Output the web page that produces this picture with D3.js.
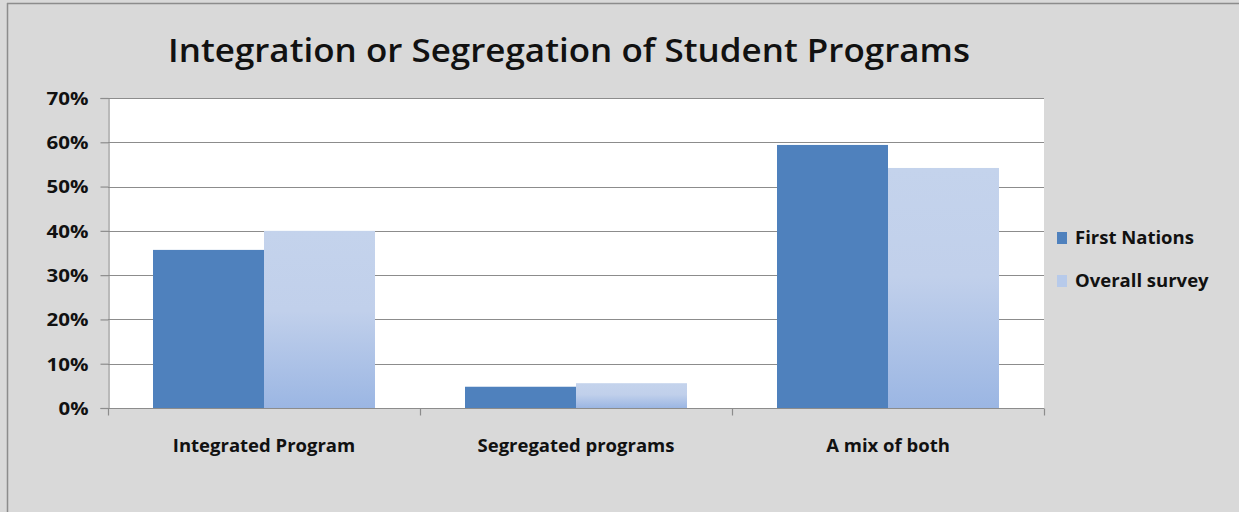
<!DOCTYPE html>
<html><head><meta charset="utf-8">
<script src="https://cdn.jsdelivr.net/npm/d3@7"></script>
<style>
html,body{margin:0;padding:0;background:#d9d9d9;}
svg{display:block;}
text{font-family:"Open Sans","DejaVu Sans",sans-serif;fill:#111;}
</style></head><body>
<svg id="c" width="1239" height="512"></svg>
<script>
const categories = ["Integrated Program", "Segregated programs", "A mix of both"];
const seriesNames = ["First Nations", "Overall survey"];
const firstNations = [0.357, 0.048, 0.594];
const overallSurvey = [0.40, 0.056, 0.542];
const yTicks = [0, 0.1, 0.2, 0.3, 0.4, 0.5, 0.6, 0.7];
const title = "Integration or Segregation of Student Programs";

const svg = d3.select("#c");
const W = 1239, H = 512;
const m = {left: 108, right: 1044, top: 98, bottom: 408};

// background + border
svg.append("rect").attr("x",0).attr("y",0).attr("width",W).attr("height",H).attr("fill","#d9d9d9");
svg.append("line").attr("x1",7.5).attr("x2",7.5).attr("y1",3).attr("y2",H).attr("stroke","#8c8c8c").attr("stroke-width",1.5);
svg.append("line").attr("x1",7).attr("x2",W).attr("y1",3.5).attr("y2",3.5).attr("stroke","#8c8c8c").attr("stroke-width",1.5);

const defs = svg.append("defs");
const g1 = defs.append("linearGradient").attr("id","lg").attr("x1",0).attr("x2",0).attr("y1",0).attr("y2",1);
g1.append("stop").attr("offset","0%").attr("stop-color","#c4d3ec");
g1.append("stop").attr("offset","45%").attr("stop-color","#c1d0eb");
g1.append("stop").attr("offset","100%").attr("stop-color","#9bb6e3");

// plot area
svg.append("rect").attr("x",m.left).attr("y",m.top).attr("width",m.right-m.left).attr("height",m.bottom-m.top).attr("fill","#ffffff");

const y = d3.scaleLinear().domain([0,0.7]).range([m.bottom,m.top]);
const x0 = d3.scaleBand().domain(categories).range([m.left,m.right]).paddingInner(0.2885).paddingOuter(0.14425);
const x1 = d3.scaleBand().domain(seriesNames).range([0,x0.bandwidth()]).padding(0);
const color = {"First Nations":"#4f81bd","Overall survey":"url(#lg)"};

// gridlines
svg.append("g").selectAll("line").data(yTicks.filter(d=>d>0)).join("line")
  .attr("x1",m.left).attr("x2",m.right).attr("y1",d=>Math.round(y(d))+0.5).attr("y2",d=>Math.round(y(d))+0.5)
  .attr("stroke","#8c8c8c").attr("stroke-width",1.2);

// bars
const data = categories.map((c,i)=>({cat:c, vals:[{s:seriesNames[0],v:firstNations[i]},{s:seriesNames[1],v:overallSurvey[i]}]}));
const grp = svg.append("g").selectAll("g").data(data).join("g").attr("transform",d=>`translate(${x0(d.cat)},0)`);
grp.selectAll("rect").data(d=>d.vals).join("rect")
  .attr("x",d=>x1(d.s)).attr("width",x1.bandwidth())
  .attr("y",d=>y(d.v)).attr("height",d=>y(0)-y(d.v))
  .attr("fill",d=>color[d.s]);

// y axis
const yAxis = d3.axisLeft(y).tickValues(yTicks).tickFormat(d3.format(".0%")).tickSize(8).tickPadding(12);
const ya = svg.append("g").attr("transform",`translate(${m.left+0.5},0)`).call(yAxis);
ya.select(".domain").attr("stroke","#8c8c8c").attr("stroke-width",1.2);
ya.selectAll(".tick line").attr("stroke","#8c8c8c").attr("stroke-width",1.2);
ya.selectAll("text").attr("font-size",18).attr("font-weight",700).attr("fill","#111").attr("dy","0.35em")
  .attr("textLength",42).attr("lengthAdjust","spacingAndGlyphs")
  .attr("textLength",d=>d===0?30:42);

// x axis
const xa = svg.append("g").attr("transform",`translate(0,${m.bottom+0.5})`);
xa.append("line").attr("x1",m.left).attr("x2",m.right).attr("stroke","#8c8c8c").attr("stroke-width",1.2);
const bounds = [m.left, ...categories.map(c=>x0(c)+x0.bandwidth()+x0.step()*x0.paddingInner()/2)];
bounds[3] = m.right;
xa.selectAll("line.t").data(bounds).join("line").attr("class","t")
  .attr("x1",d=>d+0.5).attr("x2",d=>d+0.5).attr("y1",0).attr("y2",7).attr("stroke","#8c8c8c").attr("stroke-width",1.2);
xa.selectAll("text").data(categories).join("text")
  .attr("x",d=>x0(d)+x0.bandwidth()/2).attr("y",43).attr("text-anchor","middle")
  .attr("font-size",18.5).attr("font-weight",700).text(d=>d);

// title
svg.append("text").attr("x",569).attr("y",62).attr("text-anchor","middle")
  .attr("font-size",33).attr("font-weight",600).attr("textLength",802).attr("lengthAdjust","spacingAndGlyphs").text(title);

// legend
const lg = svg.append("g");
const legY = [238, 281];
seriesNames.forEach((s,i)=>{
  lg.append("rect").attr("x",1057).attr("y",legY[i]-6).attr("width",10).attr("height",12)
    .attr("fill", i===0 ? "#4f81bd" : "#b7caea");
  lg.append("text").attr("x",1075).attr("y",legY[i]).attr("dy","0.35em").attr("font-size",18.5).attr("font-weight",700).text(s);
});
</script>
</body></html>
